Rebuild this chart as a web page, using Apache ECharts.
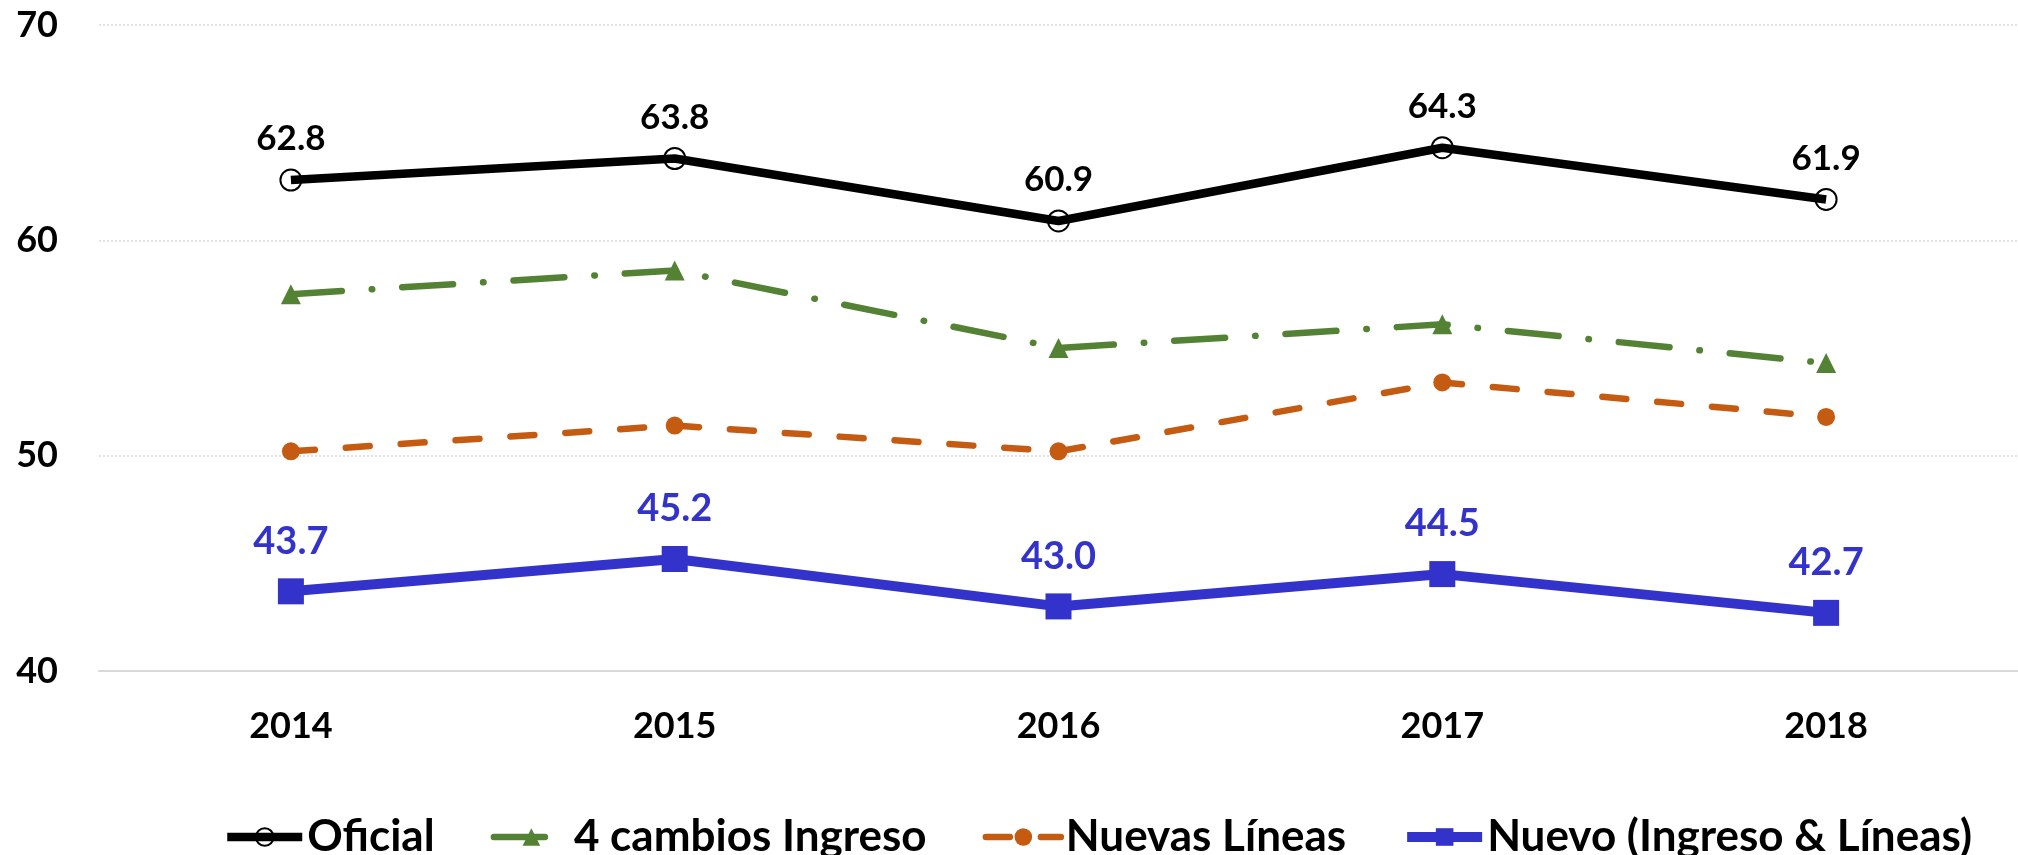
<!DOCTYPE html>
<html>
<head>
<meta charset="utf-8">
<script src="https://cdn.jsdelivr.net/npm/echarts@6/dist/echarts.min.js"></script>
<style>
  html, body { margin: 0; padding: 0; background: #fff; }
  #chart { width: 2018px; height: 855px; }
</style>
</head>
<body>
<div id="chart"></div>
<script>
// datos
var years = ['2014', '2015', '2016', '2017', '2018'];
var oficial = [62.8, 63.8, 60.9, 64.3, 61.9];
var cambiosIngreso = [57.5, 58.6, 55.0, 56.1, 54.3];
var nuevasLineas = [50.2, 51.4, 50.2, 53.4, 51.8];
var nuevo = [43.7, 45.2, 43.0, 44.5, 42.7];
var yTicks = [40, 50, 60, 70];

var FONT = 'Lato, "Open Sans", sans-serif';
var WEIGHT = 'bold';

var myChart = echarts.init(document.getElementById('chart'));
var option = {
    animation: false,
    textStyle: { fontFamily: FONT },
    grid: {
        left: 99,
        right: -5,
        top: 25,
        bottom: 184
    },
    legend: {
        left: 223,
        top: 815,
        padding: 0,
        itemWidth: 75,
        itemHeight: 22,
        itemGap: 56,
        lineStyle: { width: 'inherit' },
        textStyle: {
            fontFamily: FONT,
            fontWeight: WEIGHT,
            fontSize: 44,
            color: '#000'
        },
        data: ['Oficial', '4 cambios Ingreso', 'Nuevas Líneas', 'Nuevo (Ingreso & Líneas)']
    },
    xAxis: {
        type: 'category',
        data: years,
        boundaryGap: true,
        axisLine: { show: true, lineStyle: { color: '#D9D9D9', width: 2 } },
        axisTick: { show: false },
        axisLabel: {
            margin: 37,
            fontFamily: FONT,
            fontWeight: WEIGHT,
            fontSize: 36,
            color: '#000'
        }
    },
    yAxis: {
        type: 'value',
        min: yTicks[0],
        max: yTicks[yTicks.length - 1],
        interval: 10,
        axisLine: { show: false },
        axisTick: { show: false },
        splitLine: { lineStyle: { color: '#D9D9D9', type: [2, 2], width: 1.5 } },
        axisLabel: {
            margin: 41,
            fontFamily: FONT,
            fontWeight: WEIGHT,
            fontSize: 36,
            color: '#000'
        }
    },
    series: [
        {
            name: 'Oficial',
            type: 'line',
            data: oficial,
            symbol: 'circle',
            symbolSize: 21,
            lineStyle: { color: '#000', width: 8.5 },
            itemStyle: { color: 'rgba(255,255,255,0)', borderColor: '#000', borderWidth: 2 },
            label: {
                show: true,
                position: 'top',
                distance: 12,
                formatter: function (p) { return p.value.toFixed(1); },
                fontFamily: FONT,
                fontWeight: WEIGHT,
                fontSize: 35,
                color: '#000'
            },
            z: 3
        },
        {
            name: '4 cambios Ingreso',
            type: 'line',
            data: cambiosIngreso,
            symbol: 'triangle',
            symbolSize: 20,
            lineStyle: { color: '#548235', width: 6.5, type: [51, 30, 0.5, 30], cap: 'round' },
            itemStyle: { color: '#548235' },
            z: 2
        },
        {
            name: 'Nuevas Líneas',
            type: 'line',
            data: nuevasLineas,
            symbol: 'circle',
            symbolSize: 18,
            lineStyle: { color: '#C55A11', width: 6.5, type: [24, 31], cap: 'round' },
            itemStyle: { color: '#C55A11' },
            z: 2
        },
        {
            name: 'Nuevo (Ingreso & Líneas)',
            type: 'line',
            data: nuevo,
            symbol: 'rect',
            symbolSize: 26,
            lineStyle: { color: '#3333CC', width: 10 },
            itemStyle: { color: '#3333CC' },
            label: {
                show: true,
                position: 'top',
                distance: 18,
                formatter: function (p) { return p.value.toFixed(1); },
                fontFamily: FONT,
                fontWeight: WEIGHT,
                fontSize: 38,
                color: '#3333CC'
            },
            z: 4
        }
    ]
};
myChart.setOption(option);
</script>
</body>
</html>
